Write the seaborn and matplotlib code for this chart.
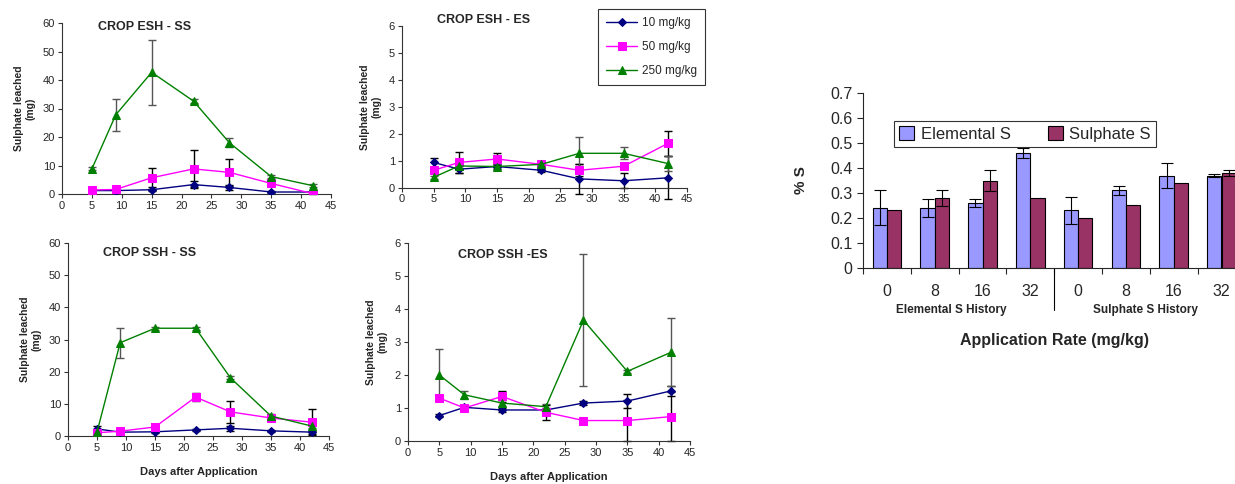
import numpy as np
import pandas as pd
import matplotlib
matplotlib.use("Agg")
import matplotlib.pyplot as plt
import matplotlib.transforms as mtransforms
import seaborn as sns

# ---------------- data ----------------
days = [5, 9, 15, 22, 28, 35, 42]
rates = ["10 mg/kg", "50 mg/kg", "250 mg/kg"]

# CROP ESH - SS
esh_ss = [[1.2, 1.2, 1.5, 3.3, 2.3, 0.7, 0.7],
          [1.4, 1.6, 5.7, 8.8, 7.6, 3.7, 0.1],
          [8.8, 27.8, 42.7, 32.6, 18.0, 6.1, 2.9]]
esh_ss_err = [[0.3, 0.3, 0.3, 1.3, 1.0, 0.3, 0.3],
              [0.3, 0.3, 3.4, 6.5, 4.8, 0.4, 0.2],
              [0.5, 5.6, 11.3, 0.6, 1.5, 0.5, 0.5]]

# CROP ESH - ES
esh_es = [[0.93, 0.68, 0.78, 0.64, 0.32, 0.25, 0.36],
          [0.64, 0.93, 1.06, 0.86, 0.64, 0.79, 1.64],
          [0.38, 0.80, 0.78, 0.86, 1.27, 1.27, 0.89]]
esh_es_err = [[0.15, 0.13, 0.08, 0.05, 0.55, 0.28, 0.8],
              [0.10, 0.38, 0.21, 0.05, 0.22, 0.05, 0.46],
              [0.05, 0.10, 0.10, 0.05, 0.59, 0.22, 0.27]]

# CROP SSH - SS
ssh_ss = [[2.2, 1.2, 1.3, 1.9, 2.4, 1.6, 1.2],
          [1.0, 1.5, 2.8, 12.1, 7.5, 5.6, 4.3],
          [1.2, 29.0, 33.5, 33.5, 18.1, 6.2, 3.1]]
ssh_ss_err = [[0.8, 0.3, 0.3, 0.4, 0.8, 0.4, 0.5],
              [0.3, 0.3, 1.0, 1.2, 3.5, 0.5, 4.1],
              [0.3, 4.7, 0.5, 0.5, 0.5, 0.5, 0.5]]

# CROP SSH - ES
ssh_es = [[0.77, 1.02, 0.94, 0.94, 1.15, 1.21, 1.52],
          [1.30, 1.00, 1.35, 0.87, 0.62, 0.62, 0.74],
          [2.00, 1.40, 1.15, 1.04, 3.66, 2.11, 2.69]]
ssh_es_err = [[0.05, 0.08, 0.05, 0.05, 0.06, 0.20, 0.15],
              [0.05, 0.05, 0.17, 0.22, 0.05, 0.62, 0.74],
              [0.80, 0.13, 0.10, 0.08, 2.00, 0.05, 1.03]]

# bar chart
app_rates = ["0", "8", "16", "32", "0", "8", "16", "32"]
slots = ["E0", "E8", "E16", "E32", "S0", "S8", "S16", "S32"]
elemental = [0.24, 0.24, 0.26, 0.46, 0.23, 0.31, 0.37, 0.37]
elemental_err = [0.07, 0.036, 0.015, 0.02, 0.055, 0.018, 0.05, 0.007]
sulphate = [0.23, 0.28, 0.35, 0.28, 0.20, 0.25, 0.34, 0.38]
sulphate_err = [0, 0.031, 0.041, 0, 0, 0, 0, 0.012]
histories = ["Elemental S History", "Sulphate S History"]

# ---------------- style ----------------
sns.set_style("ticks")
plt.rcParams['font.family'] = ['Liberation Sans', 'DejaVu Sans']

colors = ["#000080", "#FF00FF", "#008000"]
markers = ["D", "s", "^"]
msizes = [4, 6, 6]
ecolors = ["black", "black", "#555555"]

W, H = 1235, 484
fig = plt.figure(figsize=(W / 100, H / 100), dpi=100)


def rect(l, r, t, b):
    return [l / W, 1 - b / H, (r - l) / W, (b - t) / H]


def line_panel(r, vals, errs, ymax, title, tx, ty, xlabel=False):
    ax = fig.add_axes(rect(*r))
    for i in range(3):
        sns.lineplot(x=days, y=vals[i], ax=ax, color=colors[i], marker=markers[i],
                     markersize=msizes[i], markeredgecolor=colors[i], linewidth=1,
                     label=rates[i], legend=False, zorder=3)
        ax.errorbar(days, vals[i], yerr=errs[i], fmt='none', ecolor=ecolors[i],
                    elinewidth=1, capsize=3, capthick=1, zorder=2, clip_on=False)
    ax.set_xlim(0, 45)
    ax.set_ylim(0, ymax)
    ax.set_xticks(range(0, 46, 5))
    ax.set_yticks(np.linspace(0, ymax, 7))
    ax.set_yticklabels([f"{v:g}" for v in np.linspace(0, ymax, 7)])
    ax.tick_params(labelsize=8, length=3, width=0.8, color="#333333", pad=2)
    for s in ["left", "bottom"]:
        ax.spines[s].set_color("#333333")
        ax.spines[s].set_linewidth(0.8)
    sns.despine(ax=ax)
    ax.set_ylabel("Sulphate leached\n(mg)", fontsize=7.5, fontweight="bold", labelpad=5)
    if xlabel:
        ax.set_xlabel("Days after Application", fontsize=8, fontweight="bold", labelpad=10)
    ax.text(tx, ty, title, transform=ax.transAxes, fontsize=9, fontweight="bold",
            ha="left", va="center")
    return ax


line_panel((62, 331, 23, 194), esh_ss, esh_ss_err, 60, "CROP ESH - SS", 0.134, 0.975)
axb = line_panel((402, 687, 26, 187.5), esh_es, esh_es_err, 6, "CROP ESH - ES", 0.123, 1.04)
line_panel((68, 329, 243, 436), ssh_ss, ssh_ss_err, 60, "CROP SSH - SS", 0.134, 0.95, xlabel=True)
line_panel((408, 690, 243, 441), ssh_es, ssh_es_err, 6, "CROP SSH -ES", 0.177, 0.94, xlabel=True)

leg = axb.legend(loc="upper left", bbox_to_anchor=(592 / W, 1 - 3 / H),
                 bbox_transform=fig.transFigure, fontsize=8.5, frameon=True,
                 fancybox=False, edgecolor="black", handlelength=2.6,
                 borderpad=0.7, labelspacing=1.0, handletextpad=0.4)
leg.get_frame().set_linewidth(0.8)

# ---------------- bar chart ----------------
axe = fig.add_axes(rect(863, 1245.4, 93.3, 267.7))
df = pd.DataFrame({
    "slot": slots * 2,
    "value": elemental + sulphate,
    "form": ["Elemental S"] * 8 + ["Sulphate S"] * 8,
})
sns.barplot(data=df, x="slot", y="value", hue="form", order=slots, ax=axe,
            palette=["#9999FF", "#993366"], width=0.6, edgecolor="black",
            linewidth=0.8, errorbar=None, saturation=1)
for cont, err in zip(axe.containers, [elemental_err, sulphate_err]):
    for bar, e in zip(cont, err):
        if e > 0:
            axe.errorbar(bar.get_x() + bar.get_width() / 2, bar.get_height(), yerr=e,
                         fmt='none', ecolor="black", elinewidth=0.8, capsize=4,
                         capthick=0.8, zorder=4)
axe.set_xlim(-0.5, 7.5)
axe.set_ylim(0, 0.7)
axe.set_yticks(np.arange(0, 0.71, 0.1))
axe.set_yticklabels(["0"] + [f"{v:.1f}" for v in np.arange(0.1, 0.71, 0.1)])
axe.set_xticks(range(8))
axe.set_xticklabels(app_rates)
axe.set_xticks(np.arange(-0.5, 8, 1), minor=True)
axe.tick_params(axis="x", which="major", length=0, labelsize=11.5, pad=12)
axe.tick_params(axis="x", which="minor", length=4, width=0.8)
axe.tick_params(axis="y", labelsize=11.5, length=4, width=0.8)
sns.despine(ax=axe)
axe.spines["left"].set_linewidth(0.8)
axe.spines["bottom"].set_linewidth(0.8)
axe.set_xlabel("Application Rate (mg/kg)", fontsize=11.5, fontweight="bold", labelpad=24)
axe.set_ylabel("% S", fontsize=11, fontweight="bold", labelpad=16)

trans = mtransforms.blended_transform_factory(axe.transData, axe.transAxes)
axe.plot([3.5, 3.5], [0, -0.245], transform=trans, color="black", lw=0.8, clip_on=False)
axe.text(1.35, -0.245, histories[0], transform=trans, ha="center", va="center",
         fontsize=8.5, fontweight="bold")
axe.text(5.4, -0.245, histories[1], transform=trans, ha="center", va="center",
         fontsize=8.5, fontweight="bold")

lg = axe.legend(loc="upper left", bbox_to_anchor=(886 / W, 1 - 113 / H),
                bbox_transform=fig.transFigure, ncol=2, fontsize=12, frameon=True,
                fancybox=False, edgecolor="black", handlelength=0.9, handleheight=0.9,
                columnspacing=2.2, handletextpad=0.4, borderpad=0.3)
lg.get_frame().set_linewidth(0.8)

fig.savefig("out.png", dpi=100)
